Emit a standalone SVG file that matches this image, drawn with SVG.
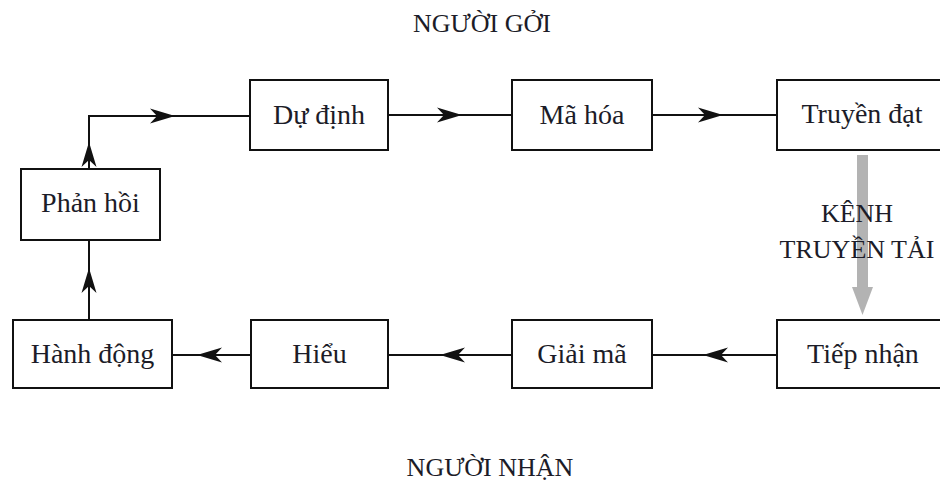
<svg xmlns="http://www.w3.org/2000/svg" xmlns:xlink="http://www.w3.org/1999/xlink" width="940" height="481" viewBox="0 0 940 481">
<style>
.box{fill:#fff;stroke:#111;stroke-width:2}
.lbl{font-family:"Liberation Serif","Times New Roman",serif;font-size:28px;fill:#1c1c28;text-anchor:middle}
.hdr{font-family:"Liberation Serif","Times New Roman",serif;font-size:26px;fill:#1c1c28;text-anchor:middle}
.ln{fill:none;stroke:#111;stroke-width:2}
</style>
<defs>
<path id="ah" d="M0,0 L-25,-7.5 L-18,0 L-25,7.5 Z" fill="#111"/>
</defs>
<rect width="940" height="481" fill="#fff"/>
<text class="hdr" x="482" y="32">NGƯỜI GỞI</text>
<text class="hdr" x="490" y="476">NGƯỜI NHẬN</text>
<g id="channel">
<rect x="857" y="155" width="11" height="132" fill="#b3b3b3"/>
<polygon points="852,287 873,287 862.5,315" fill="#b3b3b3"/>
<text class="hdr" x="857" y="222">KÊNH</text>
<text class="hdr" x="857" y="258">TRUYỀN TẢI</text>
</g>
<g id="connectors">
<path class="ln" d="M89,169 V116 H250"/>
<use xlink:href="#ah" transform="translate(89,142) rotate(-90)"/>
<use xlink:href="#ah" transform="translate(175,116)"/>
<path class="ln" d="M388,115 H512"/>
<use xlink:href="#ah" transform="translate(462,115)"/>
<path class="ln" d="M652,115 H777"/>
<use xlink:href="#ah" transform="translate(723,115)"/>
<path class="ln" d="M777,355 H652"/>
<use xlink:href="#ah" transform="translate(703,355) rotate(180)"/>
<path class="ln" d="M512,355 H388"/>
<use xlink:href="#ah" transform="translate(440,355) rotate(180)"/>
<path class="ln" d="M251,355 H172"/>
<use xlink:href="#ah" transform="translate(197,355) rotate(180)"/>
<path class="ln" d="M89,320 V240"/>
<use xlink:href="#ah" transform="translate(89,268) rotate(-90)"/>
</g>
<g id="du-dinh"><rect class="box" x="250" y="80" width="138" height="70"/><text class="lbl" x="319" y="124">Dự định</text></g>
<g id="ma-hoa"><rect class="box" x="512" y="80" width="140" height="70"/><text class="lbl" x="582" y="124">Mã hóa</text></g>
<g id="truyen-dat"><rect class="box" x="777" y="80" width="172" height="70"/><text class="lbl" x="862" y="123">Truyền đạt</text></g>
<g id="phan-hoi"><rect class="box" x="21" y="169" width="139" height="71"/><text class="lbl" x="90.5" y="212">Phản hồi</text></g>
<g id="hanh-dong"><rect class="box" x="13" y="320" width="159" height="68"/><text class="lbl" x="92.5" y="363">Hành động</text></g>
<g id="hieu"><rect class="box" x="251" y="320" width="137" height="68"/><text class="lbl" x="319.5" y="363">Hiểu</text></g>
<g id="giai-ma"><rect class="box" x="512" y="320" width="140" height="68"/><text class="lbl" x="582" y="363">Giải mã</text></g>
<g id="tiep-nhan"><rect class="box" x="777" y="320" width="172" height="68"/><text class="lbl" x="863" y="363">Tiếp nhận</text></g>
</svg>
